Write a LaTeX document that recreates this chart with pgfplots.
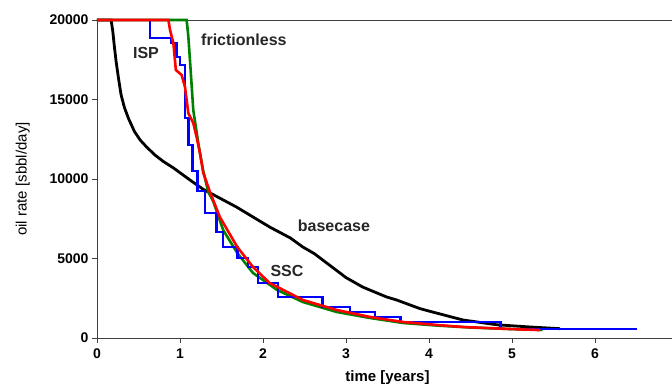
\documentclass[border=0pt]{standalone}
\usepackage{fontspec}
\setmainfont{Liberation Sans}
\usepackage{pgfplots}
\pgfplotsset{compat=1.18}
\begin{document}
\begin{tikzpicture}
\begin{axis}[
  name=ax,
  at={(0,0)}, anchor=south west,
  scale only axis,
  width=581pt, height=318pt,
  xmin=0, xmax=7, ymin=0, ymax=20000,
  xtick={0,1,...,7}, ytick={0,5000,10000,15000,20000},
  scaled y ticks=false,
  /pgf/number format/assume math mode=true,
  yticklabel style={/pgf/number format/fixed,/pgf/number format/1000 sep={}},
  xticklabel style={yshift=-2pt},
  tick label style={font=\fontsize{14}{16}\selectfont\bfseries},
  tick align=outside, xtick pos=left, ytick pos=left,
  major tick length=5pt,
  axis line style={line width=0.8pt, black!75},
  tick style={line width=0.8pt, black!75},
  xlabel={time [years]},
  ylabel={oil rate [sbbl/day]},
  xlabel style={font=\fontsize{15}{17}\selectfont\bfseries},
  ylabel style={font=\fontsize{15}{17}\selectfont},
  xlabel shift=5pt,
  ylabel shift=13pt,
  clip=false,
]
% basecase
\addplot[black, line width=2.8pt] coordinates {
(0,20000) (0.17,20000) (0.19,19300) (0.21,18300) (0.23,17400) (0.26,16300)
(0.29,15300) (0.33,14500) (0.38,13800) (0.45,13000) (0.52,12450) (0.60,12000)
(0.70,11500) (0.80,11100) (0.92,10700) (1.12,9937) (1.28,9350)
(1.68,8239) (2.08,6981) (2.33,6289) (2.48,5723) (2.62,5300) (2.81,4550)
(3.0,3800) (3.2,3207) (3.49,2578) (3.61,2390) (3.89,1850) (4.01,1680)
(4.41,1132) (4.82,830) (5.22,692) (5.58,585)};
% frictionless
\addplot[green!50!black, line width=2.6pt] coordinates {
(0,20000) (1.08,20000) (1.10,19000) (1.12,17483) (1.16,14339) (1.22,12264)
(1.28,10500) (1.34,9200) (1.40,8600) (1.52,6792) (1.69,5346) (1.88,4088)
(2.17,3019) (2.48,2264) (2.89,1635) (3.29,1258) (3.69,943) (4.1,780)
(4.5,660) (5.0,560) (5.37,510)};
% ISP
\addplot[blue, line width=2.6pt, const plot] coordinates {
(0,20000) (0.64,18867) (0.90,18553) (0.96,17672) (1.00,17170) (1.06,13836)
(1.10,12138) (1.15,10503) (1.21,9245) (1.30,7861) (1.44,6666) (1.52,5723)
(1.69,5031) (1.82,4465) (1.94,3459) (2.18,2578) (2.72,1950) (3.05,1635)
(3.35,1321) (3.66,1006) (4.86,566) (6.51,566)};
% SSC
\addplot[red, line width=2.6pt] coordinates {
(0,20000) (0.86,20000) (0.88,19370) (0.92,18553) (0.95,16855) (1.02,16540)
(1.06,15785) (1.10,14150) (1.16,13521) (1.20,12641) (1.24,11635) (1.28,10400)
(1.36,9200) (1.48,7610) (1.69,5723) (1.88,4465) (2.08,3459) (2.48,2390)
(2.89,1761) (3.29,1321) (3.69,1006) (4.10,818) (4.41,692) (5.0,560) (5.34,500)};
\node[font=\fontsize{16}{18}\selectfont\bfseries, text=black!85] at (axis cs:0.59,17924) {ISP};
\node[font=\fontsize{16}{18}\selectfont\bfseries, text=black!85] at (axis cs:1.77,18741) {frictionless};
\node[font=\fontsize{16}{18}\selectfont\bfseries, text=black!85] at (axis cs:2.855,7044) {basecase};
\node[font=\fontsize{16}{18}\selectfont\bfseries, text=black!85] at (axis cs:2.289,4214) {SSC};
\end{axis}
\pgfresetboundingbox
\path[use as bounding box] ([shift={(-97pt,-45pt)}]ax.south west) rectangle ([shift={(575pt,338pt)}]ax.south west);
\end{tikzpicture}
\end{document}
